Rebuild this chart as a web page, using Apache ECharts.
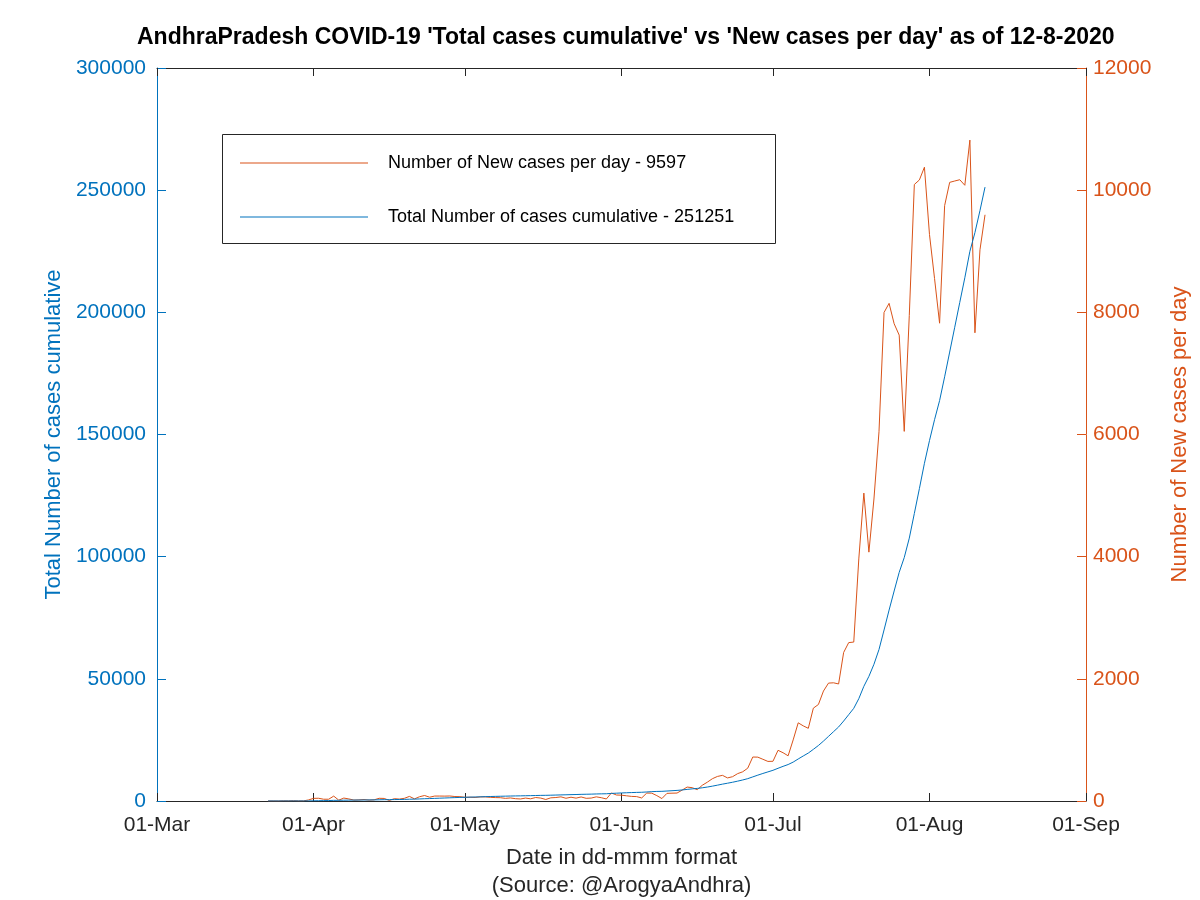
<!DOCTYPE html>
<html>
<head>
<meta charset="utf-8">
<script src="https://cdn.jsdelivr.net/npm/echarts@6/dist/echarts.min.js"></script>
<style>
html,body{margin:0;padding:0;background:#fff;}
#chart{width:1200px;height:900px;}
</style>
</head>
<body>
<div id="chart"></div>
<script>
// x positions: days counted from 01-Mar-2020
const tickDays = [0, 31, 61, 92, 122, 153, 184];
const tickLabels = ['01-Mar', '01-Apr', '01-May', '01-Jun', '01-Jul', '01-Aug', '01-Sep'];
const firstDay = 22; // 23-Mar-2020

const newCases = [
  1,1,0,3,2,5,2,2,17,
  43,45,29,29,80,14,48,34,15,18,24,15,19,44,42,9,38,31,44,75,35,70,90,62,81,81,80,82,73,71,
  60,62,58,67,67,60,56,54,43,50,38,33,48,36,57,48,25,52,57,68,45,62,47,66,44,48,68,54,33,131,98,
  95,85,75,72,50,130,128,88,40,125,128,130,178,228,218,185,258,308,365,402,420,378,398,448,478,537,720,718,683,648,
  650,830,790,740,1000,1280,1230,1190,1520,1580,1800,1930,1935,1916,2432,2593,2602,3963,5041,4074,4944,6045,7998,8147,7813,7627,6051,7948,10093,10167,10376,
  9276,8555,7822,9747,10128,10150,10171,10080,10820,7665,9024,9597
];

const totalCases = [
  7,8,8,11,13,18,20,22,39,
  82,127,156,185,265,279,327,361,376,394,418,433,452,496,538,547,585,616,660,735,770,840,930,992,1073,1154,1234,1316,1389,1460,
  1520,1582,1640,1707,1774,1834,1890,1944,1987,2037,2075,2108,2156,2192,2249,2297,2322,2374,2431,2499,2544,2606,2653,2719,2763,2811,2879,2933,2966,3097,3195,
  3290,3375,3450,3522,3572,3702,3830,3918,3958,4083,4211,4341,4519,4747,4965,5150,5408,5716,6081,6483,6903,7281,7679,8127,8605,9142,9862,10580,11263,11911,
  12561,13391,14181,14921,15921,17201,18431,19621,21141,22721,24521,26451,28386,30302,32734,35327,37929,41892,46933,51007,55951,61996,69994,78141,85954,93581,99632,107580,117673,127840,138216,
  147492,156047,163869,173616,183744,193894,204065,214145,224965,232630,241654,251251
];

const leftTicks = {min: 0, max: 300000, interval: 50000};
const rightTicks = {min: 0, max: 12000, interval: 2000};

const newName = 'Number of New cases per day - ' + newCases[newCases.length - 1];
const totName = 'Total Number of cases cumulative - ' + totalCases[totalCases.length - 1];

const FONT = "'Liberation Sans', Arial, Helvetica, sans-serif";
const BLUE = '#0072BD', ORANGE = '#D95319', DARK = '#262626';

const chart = echarts.init(document.getElementById('chart'));
chart.setOption({
  animation: false,
  backgroundColor: '#fff',
  textStyle: {fontFamily: FONT},
  title: {
    text: "AndhraPradesh COVID-19 'Total cases cumulative' vs 'New cases per day' as of 12-8-2020",
    left: 132, top: 21,
    textStyle: {fontFamily: FONT, fontSize: 23, fontWeight: 'bold', color: '#000'}
  },
  grid: {left: 157, right: 114, top: 68, bottom: 99, containLabel: false, outerBoundsMode: 'none'},
  graphic: [{
    type: 'rect', z: 10,
    shape: {x: 222.5, y: 134.5, width: 553, height: 109},
    style: {fill: '#fff', stroke: DARK, lineWidth: 1}
  }],
  legend: {
    z: 20,
    orient: 'vertical', left: 235, top: 148,
    icon: 'rect', itemWidth: 128, itemHeight: 1, itemGap: 34,
    data: [newName, totName],
    textStyle: {fontFamily: FONT, fontSize: 18, color: '#000', lineHeight: 20, padding: [0, 0, 0, 15]}
  },
  xAxis: [{
    type: 'value', position: 'bottom', min: tickDays[0], max: tickDays[tickDays.length - 1],
    axisLine: {show: true, onZero: false, lineStyle: {color: DARK, width: 1}},
    axisTick: {show: true, inside: true, length: 8, customValues: tickDays, lineStyle: {color: DARK}},
    axisLabel: {
      customValues: tickDays, margin: 14, fontSize: 21, color: DARK, fontFamily: FONT,
      formatter: v => tickLabels[tickDays.indexOf(v)]
    },
    splitLine: {show: false},
    name: 'Date in dd-mmm format\n(Source: @ArogyaAndhra)',
    nameLocation: 'middle', nameGap: 43,
    nameTextStyle: {fontSize: 22, color: DARK, lineHeight: 28, fontFamily: FONT}
  }, {
    type: 'value', position: 'top', min: tickDays[0], max: tickDays[tickDays.length - 1],
    axisLine: {show: true, onZero: false, lineStyle: {color: DARK, width: 1}},
    axisTick: {show: true, inside: true, length: 8, customValues: tickDays, lineStyle: {color: DARK}},
    axisLabel: {show: false},
    splitLine: {show: false}
  }],
  yAxis: [{
    type: 'value', position: 'left', min: leftTicks.min, max: leftTicks.max, interval: leftTicks.interval,
    axisLine: {show: true, onZero: false, lineStyle: {color: BLUE, width: 1}},
    axisTick: {show: true, inside: true, length: 9, lineStyle: {color: BLUE}},
    axisLabel: {fontSize: 21, color: BLUE, margin: 11, fontFamily: FONT, formatter: v => String(v)},
    splitLine: {show: false},
    name: 'Total Number of cases cumulative', nameLocation: 'middle', nameGap: 86, nameRotate: 90,
    nameTextStyle: {fontSize: 22, color: BLUE, fontFamily: FONT}
  }, {
    type: 'value', position: 'right', min: rightTicks.min, max: rightTicks.max, interval: rightTicks.interval,
    axisLine: {show: true, onZero: false, lineStyle: {color: ORANGE, width: 1}},
    axisTick: {show: true, inside: true, length: 9, lineStyle: {color: ORANGE}},
    axisLabel: {fontSize: 21, color: ORANGE, margin: 7, fontFamily: FONT, formatter: v => String(v)},
    splitLine: {show: false},
    name: 'Number of New cases per day', nameLocation: 'middle', nameGap: 83, nameRotate: 90,
    nameTextStyle: {fontSize: 22, color: ORANGE, fontFamily: FONT}
  }],
  series: [{
    name: newName, type: 'line', xAxisIndex: 0, yAxisIndex: 1,
    data: newCases.map((v, i) => [firstDay + i, v]),
    symbol: 'none', showSymbol: false,
    lineStyle: {width: 1, color: ORANGE}, itemStyle: {color: ORANGE}
  }, {
    name: totName, type: 'line', xAxisIndex: 0, yAxisIndex: 0,
    data: totalCases.map((v, i) => [firstDay + i, v]),
    symbol: 'none', showSymbol: false,
    lineStyle: {width: 1, color: BLUE}, itemStyle: {color: BLUE}
  }]
});
</script>
</body>
</html>
